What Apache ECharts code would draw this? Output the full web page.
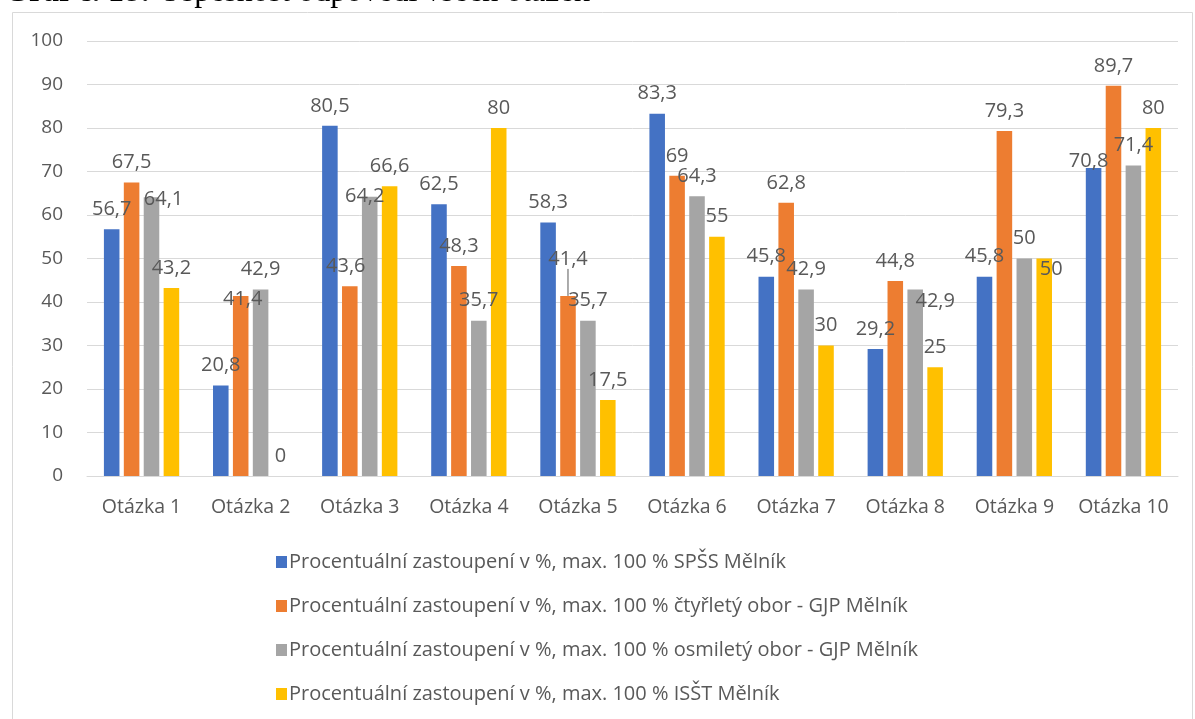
<!DOCTYPE html>
<html>
<head>
<meta charset="utf-8">
<script src="https://cdn.jsdelivr.net/npm/echarts@6/dist/echarts.min.js"></script>
<style>
  html, body { margin: 0; padding: 0; background: #fff; }
  #chart { width: 1195px; height: 719px; }
</style>
</head>
<body>
<div id="chart"></div>
<script>
  // kategorie a hodnoty z grafu
  const categories = ['Otázka 1', 'Otázka 2', 'Otázka 3', 'Otázka 4', 'Otázka 5', 'Otázka 6', 'Otázka 7', 'Otázka 8', 'Otázka 9', 'Otázka 10'];
  const seriesNames = [
    'Procentuální zastoupení v %, max. 100 % SPŠS Mělník',
    'Procentuální zastoupení v %, max. 100 % čtyřletý obor - GJP Mělník',
    'Procentuální zastoupení v %, max. 100 % osmiletý obor - GJP Mělník',
    'Procentuální zastoupení v %, max. 100 % ISŠT Mělník',
  ];
  const spssValues = [56.7, 20.8, 80.5, 62.5, 58.3, 83.3, 45.8, 29.2, 45.8, 70.8];
  const ctyrletyValues = [67.5, 41.4, 43.6, 48.3, 41.4, 69, 62.8, 44.8, 79.3, 89.7];
  const osmiletyValues = [64.1, 42.9, 64.2, 35.7, 35.7, 64.3, 42.9, 42.9, 50, 71.4];
  const isstValues = [43.2, 0, 66.6, 80, 17.5, 55, 30, 25, 50, 80];
  const yMin = 0;
  const yMax = 100;
  const yStep = 10;

  const colors = ['#4472C4', '#ED7D31', '#A5A5A5', '#FFC000'];
  const textColor = '#595959';
  const font = '"Open Sans", "Noto Sans", sans-serif';

  // ručně posunuté popisky jako v původním grafu: [série, otázka] -> [dx, dy]
  const labelNudge = {
    '0-9': [-5, 13],
    '1-1': [2, 23],
    '1-2': [-4, 0],
    '1-4': [0, -17],
    '2-0': [12, 22],
    '2-2': [-5, 20],
    '2-7': [20, 32],
    '3-8': [7, 31],
  };

  const fmt = (v) => String(v).replace('.', ',');

  const makeSeries = (name, values, idx) => ({
    name,
    type: 'bar',
    data: values.map((v, i) => {
      // jediný popisek s vodicí čarou (Otázka 5, čtyřletý obor)
      if (idx === 1 && i === 4) {
        return { value: v, labelLine: { show: true, lineStyle: { color: textColor, width: 1 } } };
      }
      return v;
    }),
    barGap: '28%',
    barCategoryGap: '31%',
    itemStyle: { color: colors[idx] },
    label: {
      show: true,
      position: 'top',
      distance: 10,
      color: textColor,
      fontFamily: font,
      fontSize: 20,
      formatter: (p) => fmt(p.value),
    },
    labelLayout: (params) => {
      const n = labelNudge[`${idx}-${params.dataIndex}`];
      return n ? { dx: n[0], dy: n[1] } : {};
    },
  });

  const chart = echarts.init(document.getElementById('chart'));

  chart.setOption({
    animation: false,
    backgroundColor: '#fff',
    graphic: [
      {
        type: 'rect',
        shape: { x: 12.5, y: 12.5, width: 1180, height: 720 },
        style: { fill: 'none', stroke: '#D9D9D9', lineWidth: 1 },
        silent: true,
      },
      {
        type: 'text',
        left: 4,
        top: -23,
        style: {
          text: '{b|Graf č. 18:} Úspěšnost odpovědí všech otázek',
          font: '32px "Liberation Serif", serif',
          fill: '#000',
          rich: {
            b: { fontFamily: '"Liberation Serif", serif', fontSize: 32, fontWeight: 'bold' },
          },
        },
      },
    ],
    grid: {
      left: 87,
      right: 17,
      top: 41,
      bottom: 243,
      containLabel: false,
    },
    legend: {
      orient: 'vertical',
      left: 271,
      top: 546,
      itemWidth: 11,
      itemHeight: 12,
      itemGap: 22,
      itemStyle: { borderWidth: 0 },
      icon: 'rect',
      textStyle: {
        color: textColor,
        fontFamily: font,
        fontSize: 20,
        lineHeight: 22,
        padding: [0, 0, 0, -3],
      },
      data: seriesNames,
    },
    xAxis: {
      type: 'category',
      data: categories,
      axisLine: { show: true, lineStyle: { color: '#D9D9D9' } },
      axisTick: { show: false },
      axisLabel: {
        interval: 0,
        color: textColor,
        fontFamily: font,
        fontSize: 19.5,
        margin: 21,
      },
    },
    yAxis: {
      type: 'value',
      min: yMin,
      max: yMax,
      interval: yStep,
      axisLine: { show: false },
      axisTick: { show: false },
      splitLine: { lineStyle: { color: '#D9D9D9', width: 1 } },
      axisLabel: {
        color: textColor,
        fontFamily: font,
        fontSize: 19,
        margin: 24,
      },
    },
    series: [
      makeSeries(seriesNames[0], spssValues, 0),
      makeSeries(seriesNames[1], ctyrletyValues, 1),
      makeSeries(seriesNames[2], osmiletyValues, 2),
      makeSeries(seriesNames[3], isstValues, 3),
    ],
  });
</script>
</body>
</html>
